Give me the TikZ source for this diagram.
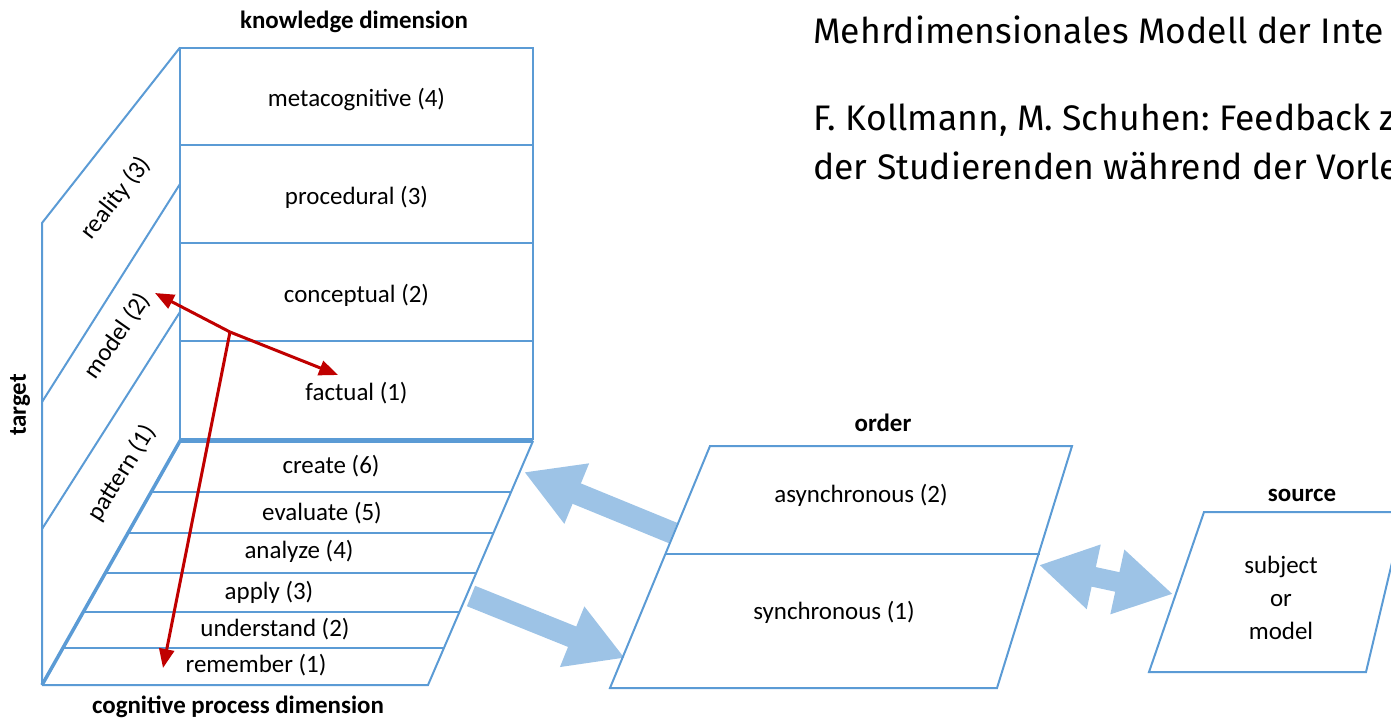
\documentclass[tikz,border=0pt]{standalone}
\usepackage{fontspec}
\setmainfont{Carlito}
\newfontfamily\headfont{Fira Sans}
\usetikzlibrary{arrows.meta,positioning,calc}
\definecolor{edgeblue}{HTML}{5B9BD5}
\definecolor{flowblue}{HTML}{9DC3E6}
\definecolor{linkred}{HTML}{C00000}
\definecolor{txt}{HTML}{000000}
\frenchspacing

\begin{document}
\begin{tikzpicture}[
  x=0.02cm, y=-0.02cm,
  font=\fontsize{14.2}{17}\selectfont,
  kbox/.style={
    draw=edgeblue,
    line width=0.04cm,
    minimum width=7.06cm,
    minimum height=1.96cm,
    inner sep=0pt,
    outer sep=0pt,
    text height=1.4em,
    text depth=0.25em,
    text=txt
  },
  dimlabel/.style={font=\fontsize{14.2}{17}\selectfont\bfseries, text=txt},
  plane/.style={draw=edgeblue, line width=0.04cm},
  rim/.style={draw=edgeblue, line width=0.07cm},
  link/.style={draw=linkred, line width=0.06cm, -{Triangle[length=0.38cm,width=0.3cm]}},
  bigarrow/.style={draw=flowblue, line width=0.44cm, -{Triangle[length=1.14cm,width=1.22cm]}},
  twoway/.style={draw=flowblue, line width=0.4cm,
    {Triangle[length=1.12cm,width=1.24cm]}-{Triangle[length=1.14cm,width=1.24cm]}},
  headline/.style={anchor=west, inner xsep=0pt, font=\headfont\fontsize{20.2}{24}\selectfont, text=txt}
]
  \useasboundingbox (0,0) rectangle (1391,719);

  % Title lines
  \node[headline] (title) at (813,30) {Mehrdimensionales Modell der Inte};
  \node[headline] (ref1) at (813,120) {F. Kollmann, M. Schuhen: Feedback zur};
  \node[headline] (ref2) at (813,166) {der Studierenden während der Vorlesun};

  % Knowledge dimension
  \node[kbox] (meta) at (356.5,96.5) {metacognitive (4)};
  \node[kbox, below=0pt of meta] (proc) {procedural (3)};
  \node[kbox, below=0pt of proc] (conc) {conceptual (2)};
  \node[kbox, below=0pt of conc] (fact) {factual (1)};
  \node[dimlabel] (kdim) at (354,22) {knowledge dimension};

  % Target plane
  \coordinate (tl) at (42,223);
  \coordinate (tb) at (42,685);
  \draw[plane] (tb) -- (tl) -- (meta.north west);
  \draw[plane] (42,402) -- (180,184);
  \draw[plane] (42,529) -- (180,312);
  \node[rotate=52] (real) at (116,198) {reality (3)};
  \node[rotate=55] (modl) at (117,336) {model (2)};
  \node[rotate=58] (patt) at (122,473) {pattern (1)};
  \node[dimlabel, rotate=90] (target) at (20,405) {target};

  % Cognitive process floor
  \coordinate (fl) at (180,441);
  \coordinate (fr) at (533,441);
  \coordinate (bl) at (42,685);
  \coordinate (br) at (428,685);
  \foreach \t in {0.209,0.377,0.541,0.701,0.848}
    \draw[plane] ($(fl)!\t!(bl)$) -- ($(fr)!\t!(br)$);
  \draw[plane] (fr) -- (br) -- (bl);
  \draw[rim] (bl) -- (fl) -- (fr);
  \node (crea) at (331,466) {create (6)};
  \node (eval) at (322,513) {evaluate (5)};
  \node (anal) at (299,551) {analyze (4)};
  \node (appl) at (269,592) {apply (3)};
  \node (unde) at (275,629) {understand (2)};
  \node (reme) at (256,665) {remember (1)};
  \node[dimlabel] (cdim) at (238,707) {cognitive process dimension};

  % Red links
  \coordinate (fork) at (230,332);
  \coordinate (tomodel) at (155,293);
  \coordinate (tofact) at (338,375);
  \coordinate (torem) at (163,668);
  \draw[link] (fork) -- (tomodel);
  \draw[link] (fork) -- (tofact);
  \draw[link] (fork) -- (torem);

  % Flow arrows
  \coordinate (asyncend) at (673,533);
  \coordinate (floortip) at (524,472);
  \coordinate (floorend) at (471,596);
  \coordinate (synctip) at (625,658);
  \coordinate (ordertip) at (1039,565);
  \coordinate (sourcetip) at (1173,594);
  \draw[bigarrow] (asyncend) -- (floortip);
  \draw[bigarrow] (floorend) -- (synctip);
  \draw[twoway] (ordertip) -- (sourcetip);

  % Order
  \draw[plane] (610,688) -- (710,446) -- (1072,446) -- (997,688) -- cycle;
  \draw[plane] (666,554) -- (1040,554);
  \node[dimlabel] (order) at (883,423) {order};
  \node (async) at (861,495) {asynchronous (2)};
  \node (sync) at (834,612) {synchronous (1)};

  % Source
  \draw[plane] (1149,672) -- (1204,512) -- (1404,512) -- (1366,672) -- cycle;
  \node[dimlabel] (source) at (1302,495) {source};
  \node[align=center, font=\fontsize{14.2}{18.8}\selectfont] (subj) at (1281,598) {subject\\or\\model};
\end{tikzpicture}
\end{document}
